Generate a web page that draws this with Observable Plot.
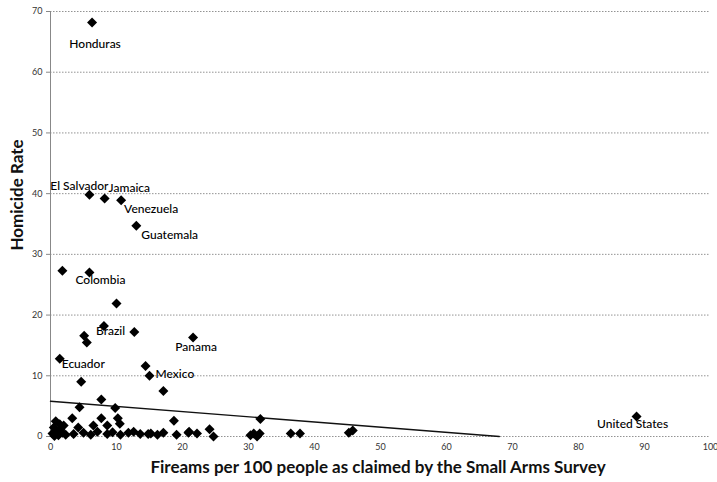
<!DOCTYPE html>
<html>
<head>
<meta charset="utf-8">
<script src="https://cdn.jsdelivr.net/npm/d3@7"></script>
<script src="https://cdn.jsdelivr.net/npm/@observablehq/plot@0.6"></script>
<style>
  body { margin: 0; background: #fff; }
  #chart svg { display: block; }
</style>
</head>
<body>
<div id="chart"></div>
<script>
// ---- data ----
const labeledNames = ["Honduras","El Salvador","Jamaica","Venezuela","Guatemala","Colombia","Brazil","Panama","Ecuador","Mexico","United States"];
const labeledX = [6.3, 5.9, 8.2, 10.7, 13.0, 5.9, 8.1, 21.6, 1.4, 15.0, 88.8];
const labeledY = [68.2, 39.8, 39.2, 38.9, 34.7, 27.0, 18.2, 16.3, 12.8, 10.0, 3.3];

const otherX = [1.8, 10.0, 5.1, 5.5, 12.7, 14.4, 4.65, 17.1, 7.7, 4.4, 9.8, 3.3, 7.7, 10.2, 10.5, 18.7, 0.8, 6.5, 4.2, 8.6, 24.1, 24.7, 19.1, 21.0, 22.2,
  0.3, 0.5, 1.0, 1.2, 1.5, 1.8, 2.0, 2.3, 0.6, 1.4,
  3.5, 5.0, 6.1, 7.1, 8.6, 9.4, 10.6, 11.8, 12.6, 13.6, 15.2, 16.2, 17.1, 14.8, 20.9,
  30.3, 30.8, 31.3, 31.7, 31.8, 36.4, 37.8, 45.2, 45.8];
const otherY = [27.3, 21.9, 16.6, 15.5, 17.2, 11.6, 9.0, 7.5, 6.1, 4.8, 4.7, 3.0, 3.0, 3.0, 2.1, 2.6, 2.5, 1.8, 1.5, 1.8, 1.2, 0.0, 0.3, 0.8, 0.5,
  0.5, 1.5, 0.8, 0.2, 1.2, 0.6, 1.8, 0.3, 0.1, 2.0,
  0.4, 0.6, 0.3, 0.8, 0.4, 0.7, 0.3, 0.6, 0.8, 0.4, 0.5, 0.3, 0.6, 0.4, 0.6,
  0.2, 0.5, 0.0, 0.5, 2.9, 0.5, 0.5, 0.6, 1.0];

// linear trend line end points (as drawn in the source, clipped at 0)
const trendX = [0, 68];
const trendY = [5.8, 0];

const xTicks = [0, 10, 20, 30, 40, 50, 60, 70, 80, 90, 100];
const yTicks = [0, 10, 20, 30, 40, 50, 60, 70];

const xTitle = "Fireams per 100 people as claimed by the Small Arms Survey";
const yTitle = "Homicide Rate";

// ---- label placement (style, not data) ----
const labelDx = [3, 19, 4, 3, 5, 11, -8, 3, 2, 6, -4];
const labelDy = [22, -9, -10, 9, 9, 8, 5, 10, 5, -2, 8];
const labelAnchor = ["middle", "end", "start", "start", "start", "middle", "start", "middle", "start", "start", "middle"];

// ---- build tables ----
const labeled = labeledNames.map((n, i) => ({name: n, x: labeledX[i], y: labeledY[i], dx: labelDx[i], dy: labelDy[i], anchor: labelAnchor[i]}));
const others = otherX.map((x, i) => ({x, y: otherY[i]}));
const allPts = others.concat(labeled);
const trend = trendX.map((x, i) => ({x, y: trendY[i]}));

const font = "Lato, 'Open Sans', sans-serif";

const textMarks = ["start", "middle", "end"].map(a =>
  Plot.text(labeled.filter(d => d.anchor === a), {
    x: "x", y: "y", text: "name",
    textAnchor: a,
    fontSize: 12, fill: "#000", fontWeight: 500,
    render: (index, scales, values, dims, ctx, next) => {
      const g = next(index, scales, values, dims, ctx);
      const data = labeled.filter(d => d.anchor === a);
      d3.select(g).selectAll("text").each(function(_, j) {
        const d = data[index[j]];
        const t = d3.select(this);
        const tr = t.attr("transform") || "";
        t.attr("transform", tr + ` translate(${d.dx},${d.dy})`);
      });
      return g;
    }
  })
);

const chart = Plot.plot({
  width: 717,
  height: 482,
  marginLeft: 50,
  marginRight: 7,
  marginTop: 11,
  marginBottom: 46,
  style: {fontFamily: font, background: "#fff", color: "#222"},
  x: {domain: [0, 100]},
  y: {domain: [0, 70]},
  marks: [
    Plot.gridY(yTicks, {stroke: "#777", strokeOpacity: 1, strokeWidth: 0.8, strokeDasharray: "1.5,1.5"}),
    Plot.ruleX([0], {stroke: "#888", strokeWidth: 1}),
    Plot.axisY(yTicks, {tickSize: 4, tickPadding: 4, label: null, fontSize: 9, stroke: "#888", fill: "#333"}),
    Plot.axisX(xTicks, {tickSize: 0, tickPadding: 7, label: null, fontSize: 9, fill: "#333"}),
    Plot.line(trend, {x: "x", y: "y", stroke: "#111", strokeWidth: 1.4}),
    Plot.dot(allPts, {x: "x", y: "y", symbol: "diamond2", r: 4.5, fill: "#000", stroke: "none"}),
    ...textMarks
  ]
});

document.getElementById("chart").appendChild(chart);

const svg = d3.select(chart);
svg.append("text")
  .attr("x", 378).attr("y", 473)
  .attr("text-anchor", "middle")
  .attr("font-family", font)
  .attr("font-weight", "bold")
  .attr("font-size", 17)
  .attr("fill", "#111")
  .text(xTitle);
svg.append("text")
  .attr("transform", "translate(23,195) rotate(-90)")
  .attr("text-anchor", "middle")
  .attr("font-family", font)
  .attr("font-weight", "bold")
  .attr("font-size", 17)
  .attr("fill", "#111")
  .text(yTitle);
</script>
</body>
</html>
